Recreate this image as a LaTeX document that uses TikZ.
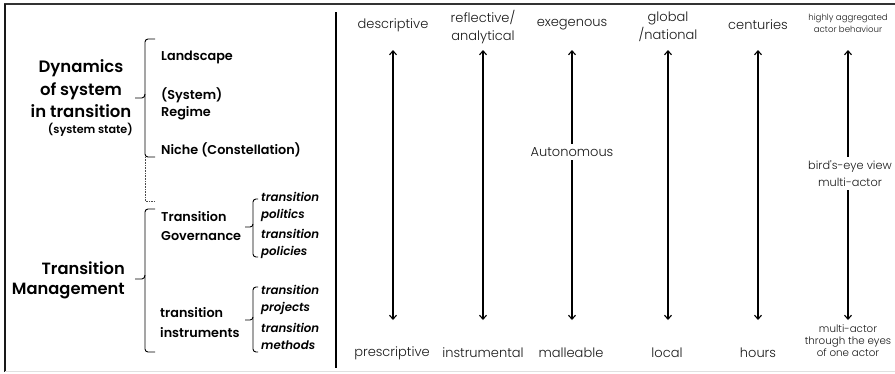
\documentclass[tikz,border=0pt]{standalone}
\usepackage{fontspec}
\setmainfont{Poppins}[BoldFont={* SemiBold},BoldItalicFont={* SemiBold Italic}]
\newfontfamily\lightfont{Poppins Light}
\usetikzlibrary{arrows.meta}
\begin{document}
\begin{tikzpicture}[x=1pt,y=-1pt,
  big/.style={font=\bfseries\fontsize{16.5}{22.5}\selectfont,inner sep=0pt},
  mid/.style={font=\bfseries\fontsize{12.8}{17}\selectfont,inner sep=0pt,anchor=west,align=left},
  sub/.style={font=\bfseries\itshape\fontsize{11.8}{17}\selectfont,inner sep=0pt,anchor=west,align=left},
  lbl/.style={font=\lightfont\fontsize{13}{18}\selectfont,text=black!90,inner sep=0pt,align=center},
  small/.style={font=\lightfont\fontsize{8.6}{12.5}\selectfont,text=black!90,inner sep=0pt,align=center},
  brace/.style={line width=0.9pt,rounded corners=3pt},
  axisarrow/.style={line width=1.1pt,{Straight Barb[length=4pt,width=7pt]}-{Straight Barb[length=4pt,width=7pt]}}]
\useasboundingbox (0,0) rectangle (895,373);
% frame
\draw[line width=1.4pt,black!80] (4,4) -- (895,4);
\draw[line width=1.4pt,black!90] (5,4) -- (5,372);
\draw[line width=1pt,black!12] (5,371.5) -- (895,371.5);
\draw[line width=1.1pt] (336,12) -- (336,368);

% left: dynamics of the system
\node[big,align=center] (dyn) at (81,89) {Dynamics\\of system\\in transition};
\node[font=\bfseries\fontsize{11.2}{12}\selectfont,inner sep=0pt,anchor=east] (state) at (133,130) {(system state)};
\draw[brace] (155,39) -- (145,39) -- (145,157) -- (155,157);
\draw[line width=0.9pt] (135,98) -- (142,98) to[out=0,in=-90] (145,94);
\draw[densely dotted,line width=0.6pt,black!70] (145,157) -- (145,201) -- (155,201);
\node[mid] (land) at (161,57) {Landscape};
\node[mid] (regime) at (161,104) {(System)\\Regime};
\node[mid] (niche) at (161,150) {Niche (Constellation)};

% left: transition management
\node[big,align=right,anchor=east,font=\bfseries\fontsize{16.3}{20}\selectfont] (tm) at (125,280) {Transition\\Management};
\draw[brace] (155,209) -- (145,209) -- (145,352) -- (155,352);
\draw[line width=0.9pt] (135,279) -- (142,279) to[out=0,in=-90] (145,275);
\node[mid,font=\bfseries\fontsize{12.8}{19}\selectfont] (gov) at (161,226.5) {Transition\\Governance};
\node[mid,font=\bfseries\fontsize{12.8}{20}\selectfont] (instr) at (160,323) {transition\\instruments};
\draw[brace] (258,199) -- (253,199) -- (253,257) -- (258,257);
\draw[line width=0.9pt] (245,227) -- (250,227) to[out=0,in=-90] (253,224);
\draw[brace] (258,287) -- (253,287) -- (253,352) -- (258,352);
\draw[line width=0.9pt] (245,320) -- (250,320) to[out=0,in=-90] (253,317);
\node[sub] (politics) at (261,206.5) {transition\\politics};
\node[sub] (policies) at (261,243.5) {transition\\policies};
\node[sub] (projects) at (261,299.5) {transition\\projects};
\node[sub] (methods) at (261,336.5) {transition\\methods};

% right: scales
\node[lbl] (t1) at (393,25) {descriptive};
\node[lbl] (t2) at (483,27) {reflective/\\analytical};
\node[lbl] (t3) at (572,25) {exegenous};
\node[lbl] (t4) at (668,27) {global\\/national};
\node[lbl] (t5) at (758,25) {centuries};
\node[small] (t6) at (848,23.5) {highly aggregated\\actor behaviour};

\node[lbl] (b1) at (392,353) {prescriptive};
\node[lbl] (b2) at (483,353) {instrumental};
\node[lbl] (b3) at (571,353) {malleable};
\node[lbl] (b4) at (667,353) {local};
\node[lbl] (b5) at (758,353) {hours};
\node[small,font=\lightfont\fontsize{10.3}{12}\selectfont] (b6) at (848,341) {multi-actor\\through the eyes\\of one actor};

\foreach \i/\x in {1/393,2/483,3/572,4/668,5/758,6/848}{
  \coordinate (u\i) at (\x,50);
  \coordinate (d\i) at (\x,320);
}
\foreach \i in {1,...,6}{\draw[axisarrow] (u\i) -- (d\i);}
\node[lbl,fill=white,inner sep=3pt] (auto) at (572,152) {Autonomous};
\node[small,fill=white,inner sep=3pt,font=\lightfont\fontsize{11.3}{17}\selectfont] (bird) at (850,173.5) {bird's-eye view\\multi-actor};
\end{tikzpicture}
\end{document}
